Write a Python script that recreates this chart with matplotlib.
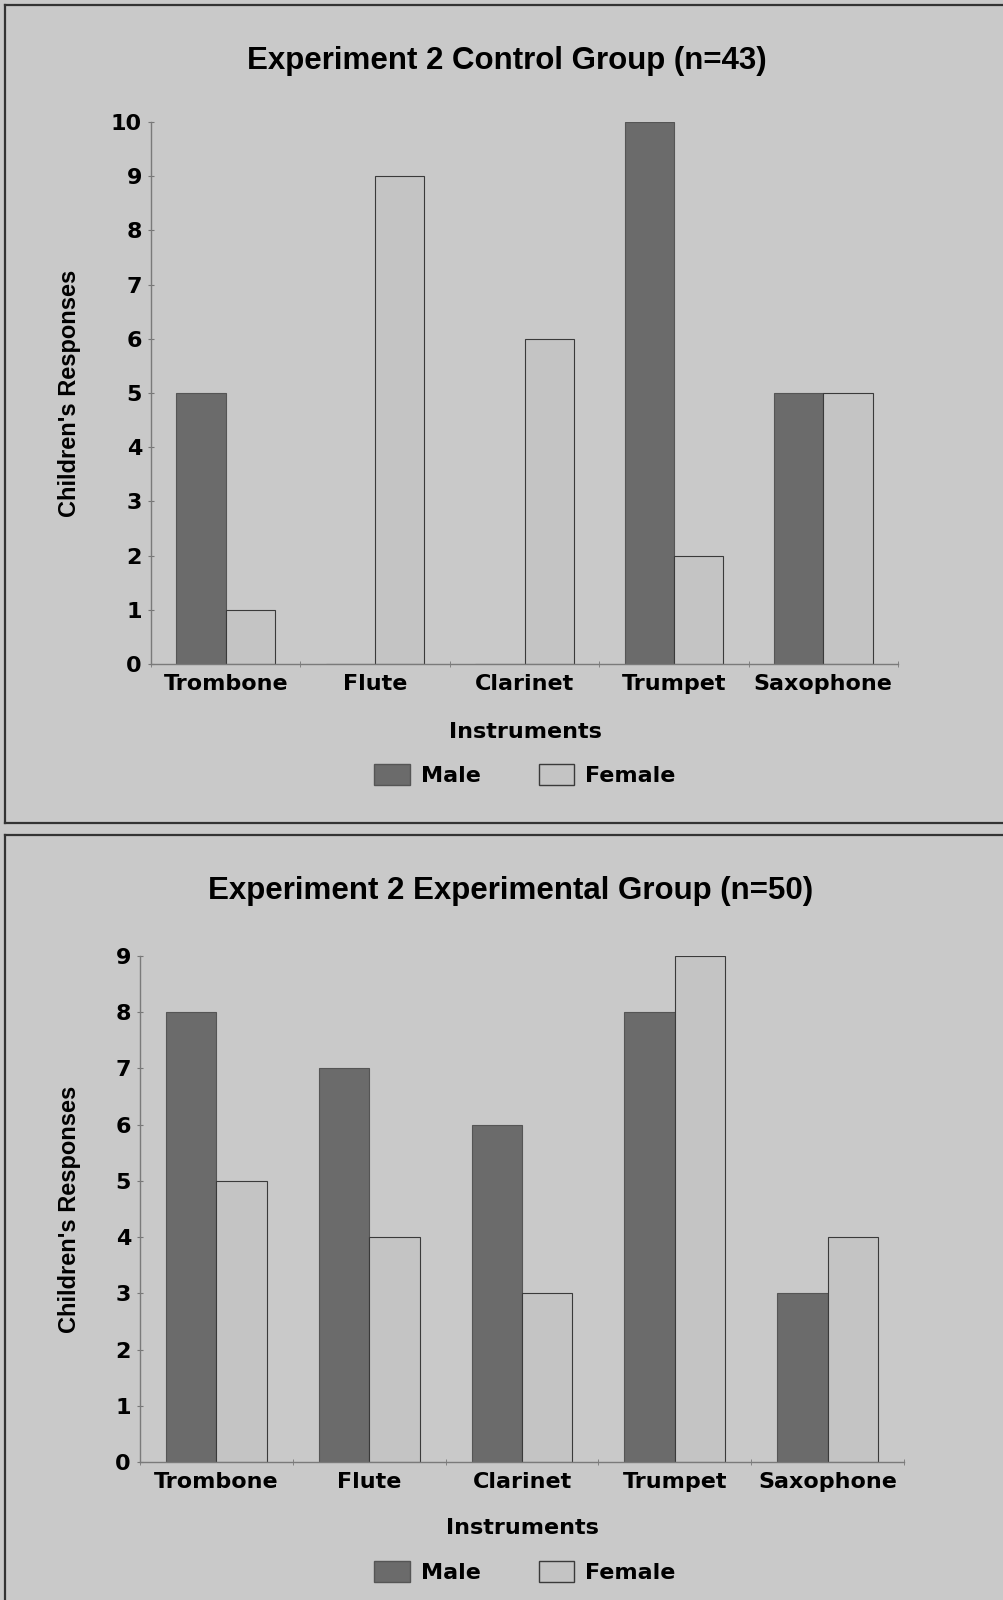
import matplotlib
matplotlib.use("Agg")
import matplotlib.pyplot as plt
from matplotlib.patches import Patch
from matplotlib.lines import Line2D
import numpy as np

instruments = ["Trombone", "Flute", "Clarinet", "Trumpet", "Saxophone"]
control_male = [5, 0, 0, 10, 5]
control_female = [1, 9, 6, 2, 5]
exp_male = [8, 7, 6, 8, 3]
exp_female = [5, 4, 3, 9, 4]
control_title = "Experiment 2 Control Group (n=43)"
exp_title = "Experiment 2 Experimental Group (n=50)"
control_yticks = list(range(0, 11))
exp_yticks = list(range(0, 10))

BG = "#c9c9c9"
MALE = "#6b6b6b"
FEMALE = "#c4c4c4"
EDGE = "#3a3a3a"
W, H = 1004, 1600

fig = plt.figure(figsize=(W / 100, H / 100), dpi=100, facecolor=BG)

tick_font = dict(family="DejaVu Sans", weight="bold", size=16)
title_font = dict(family="Liberation Sans", weight="bold", size=22.5)


def fx(px):
    return px / W


def fy(py):
    return 1 - py / H


def panel(ax_box, male, female, yticks, title, title_xy, ylab_x, xlab_xy, leg_xy):
    left, right, top, bottom = ax_box
    ax = fig.add_axes([fx(left), fy(bottom), fx(right - left), fy(top) - fy(bottom)])
    ax.set_facecolor("none")
    x = np.arange(len(instruments))
    w = 0.33
    ax.bar(x - w / 2, male, width=w, color=MALE, edgecolor="#555555", linewidth=0.8, label="Male")
    ax.bar(x + w / 2, female, width=w, color=FEMALE, edgecolor=EDGE, linewidth=0.8, label="Female")
    ax.set_xlim(-0.5, len(instruments) - 0.5)
    ax.set_ylim(0, yticks[-1])
    ax.set_yticks(yticks)
    ax.set_yticklabels([str(t) for t in yticks], fontdict=tick_font)
    ax.set_xticks(x)
    ax.set_xticklabels(instruments, fontdict=tick_font)
    ax.set_xticks(np.arange(len(instruments) + 1) - 0.5, minor=True)
    ax.tick_params(axis="x", which="major", length=0, pad=7)
    ax.tick_params(axis="x", which="minor", length=4, color="#777777", direction="inout")
    ax.tick_params(axis="y", length=5, color="#777777", direction="inout", pad=4)
    for s in ["top", "right"]:
        ax.spines[s].set_visible(False)
    for s in ["left", "bottom"]:
        ax.spines[s].set_color("#7a7a7a")
        ax.spines[s].set_linewidth(1.0)
    ax.set_ylabel("Children's Responses", family="Liberation Sans", weight="bold", size=17)
    ax.yaxis.set_label_coords((ylab_x - left) / (right - left), 0.5)
    fig.text(fx(title_xy[0]), fy(title_xy[1]), title, ha="center", va="center", **title_font)
    fig.text(fx(xlab_xy[0]), fy(xlab_xy[1]), "Instruments", ha="center", va="center", **tick_font)
    fig.legend(handles=[Patch(facecolor=MALE, edgecolor="#555555", label="Male"),
                        Patch(facecolor=FEMALE, edgecolor=EDGE, label="Female")],
               loc="center", bbox_to_anchor=(fx(leg_xy[0]), fy(leg_xy[1])), ncol=2,
               frameon=False, prop=dict(family="DejaVu Sans", weight="bold", size=16),
               handlelength=1.6, handleheight=1.1, columnspacing=2.6, handletextpad=0.5)
    return ax


panel((151, 898, 122, 664), control_male, control_female, control_yticks, control_title,
      (507, 61), 81, (525, 732), (525, 775))
panel((140, 904, 956, 1462), exp_male, exp_female, exp_yticks, exp_title,
      (511, 891), 81, (522, 1528), (525, 1572))

# panel frame lines (image is cropped on the right and bottom)
frame = dict(color="#333333", linewidth=1.6, transform=fig.transFigure)
for y in (5, 823, 835):
    fig.add_artist(Line2D([fx(5), 1.0], [fy(y), fy(y)], **frame))
fig.add_artist(Line2D([fx(5), fx(5)], [fy(5), fy(823)], **frame))
fig.add_artist(Line2D([fx(5), fx(5)], [fy(835), 0.0], **frame))

fig.savefig("out.png", dpi=100, facecolor=BG)
